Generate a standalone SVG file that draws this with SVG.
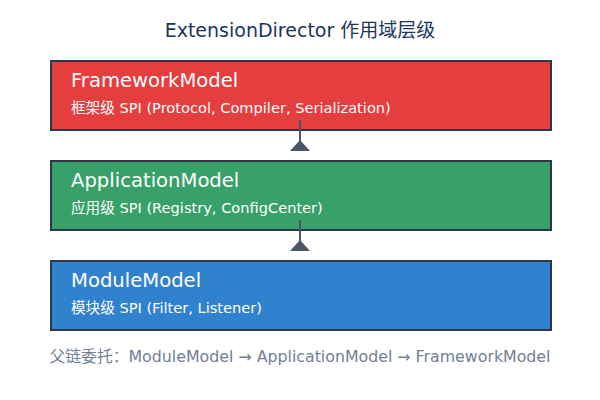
<svg xmlns="http://www.w3.org/2000/svg" width="600" height="400" viewBox="0 0 600 400">
<style>
text{font-family:"DejaVu Sans","Noto Sans CJK SC",sans-serif;}
.box{stroke:#2d3748;stroke-width:2;}
.t{fill:#fff;font-size:19.6px;}
.s{fill:#fff;font-size:14.6px;}
.conn line{stroke:#4a5568;stroke-width:2;}
.conn polygon{fill:#4a5568;}
</style>
<rect width="600" height="400" fill="#fff"/>
<text x="300" y="37" text-anchor="middle" font-size="19" fill="#1a365d">ExtensionDirector 作用域层级</text>
<g id="framework">
<rect class="box" x="51" y="61" width="500" height="69" fill="#e53e3e"/>
<text class="t" x="71" y="87">FrameworkModel</text>
<text class="s" x="71" y="113">框架级 SPI (Protocol, Compiler, Serialization)</text>
</g>
<g id="application">
<rect class="box" x="51" y="161" width="500" height="69" fill="#38a169"/>
<text class="t" x="71" y="187">ApplicationModel</text>
<text class="s" x="71" y="213">应用级 SPI (Registry, ConfigCenter)</text>
</g>
<g id="module">
<rect class="box" x="51" y="261" width="500" height="69" fill="#3182ce"/>
<text class="t" x="71" y="287">ModuleModel</text>
<text class="s" x="71" y="313">模块级 SPI (Filter, Listener)</text>
</g>
<g class="conn">
<line x1="300" y1="120" x2="300" y2="145"/>
<polygon points="300,140 290,151 310,151"/>
<line x1="300" y1="220" x2="300" y2="245"/>
<polygon points="300,240 290,251 310,251"/>
</g>
<text x="300" y="362" text-anchor="middle" font-size="15.8" fill="#718096">父链委托：ModuleModel → ApplicationModel → FrameworkModel</text>
</svg>
